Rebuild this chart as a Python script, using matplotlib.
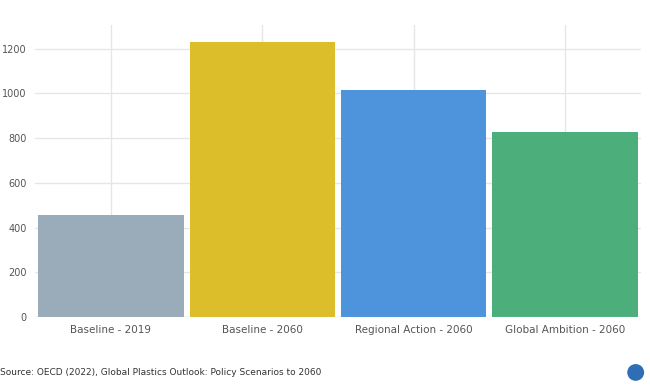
import matplotlib
matplotlib.use("Agg")
import matplotlib.pyplot as plt
from matplotlib.patches import Ellipse

# data
categories = ["Baseline - 2019", "Baseline - 2060", "Regional Action - 2060", "Global Ambition - 2060"]
values = [457, 1231, 1016, 828]
colors = ["#9aabb9", "#dcbd2a", "#4d94dc", "#4caf7b"]
yticks = [0, 200, 400, 600, 800, 1000, 1200]

fig = plt.figure(figsize=(6.5, 3.9), dpi=100)
ax = fig.add_axes([0.054, 0.187, 0.932, 0.75])

x = range(len(categories))
ax.bar(x, values, width=0.96, color=colors, zorder=3)

ax.set_xlim(-0.5, len(categories) - 0.5)
ax.set_ylim(0, 1307)
ax.set_yticks(yticks)
ax.set_xticks(list(x))
ax.set_xticklabels(categories, fontsize=7.5, color="#555555")
ax.tick_params(axis="y", labelsize=7, colors="#555555", length=0, pad=6)
ax.tick_params(axis="x", length=0, pad=6)
ax.grid(True, color="#e6e6e6", linewidth=1, zorder=0)
for s in ax.spines.values():
    s.set_visible(False)
ax.axhline(0, color="#cccccc", linewidth=0.8, zorder=4)

fig.text(0.0, 0.045, "Source: OECD (2022), Global Plastics Outlook: Policy Scenarios to 2060",
         fontsize=6.5, color="#333333", va="center")
# small logo mark at the bottom right
fig.patches.append(Ellipse((0.978, 0.045), 0.026, 0.043, transform=fig.transFigure,
                           facecolor="#2f6db5", edgecolor="none"))

fig.savefig("out.png", dpi=100)
